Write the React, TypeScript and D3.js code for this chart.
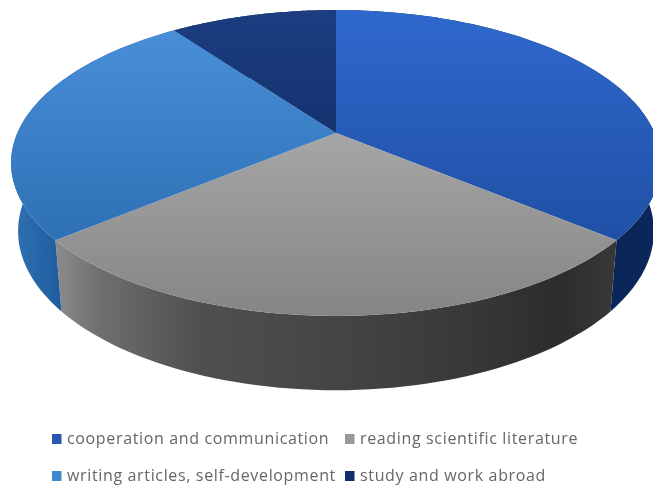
import React from "react";
import * as d3 from "d3";

const categories = [
  "cooperation and communication",
  "reading scientific literature",
  "writing articles, self-development",
  "study and work abroad",
];
const values = [36, 28, 26, 10];
const swatchColors = ["#2a57b0", "#999999", "#3f87cf", "#0f2f6e"];
const topStops = [
  ["#2f68cd", "#2050a6"],
  ["#a6a6a6", "#858585"],
  ["#4b92db", "#2e70b5"],
  ["#1c3d80", "#0d2a62"],
];
const sideFills = ["#0b2759", "url(#sideGray)", "url(#sideBlue)", "#0b2759"];
const grayStops: [number, string][] = [
  [0, "#8a8a8a"],
  [0.08, "#6e6e6e"],
  [0.25, "#505050"],
  [0.5, "#454545"],
  [0.75, "#383838"],
  [0.9, "#2c2c2c"],
  [1, "#383838"],
];

const W = 653, H = 486;
const cx = 336, cy = 133, dist = 5.1;
const Rtop = 1625, Stop = 750, Rbot = 1590, Sbot = 780, depth = 67;

const projTop = (a: number): [number, number] => {
  const X = Math.sin(a), Y = -Math.cos(a);
  return [cx + (Rtop * X) / (dist - Y), cy + (Stop * Y) / (dist - Y)];
};
const projBot = (a: number): [number, number] => {
  const X = Math.sin(a), Y = -Math.cos(a);
  return [cx + (Rbot * X) / (dist - Y), cy + depth + (Sbot * Y) / (dist - Y)];
};
const line = d3.line();
const sample = (a0: number, a1: number) => d3.range(0, 61).map((i) => a0 + ((a1 - a0) * i) / 60);

export default function App() {
  const arcs = d3.pie<number>().sort(null)(values);
  const legendPos = [
    { x: 52, y: 444 },
    { x: 345, y: 444 },
    { x: 52, y: 481 },
    { x: 345, y: 481 },
  ];
  return (
    <svg width={W} height={H} style={{ position: "absolute", left: 0, top: 0, display: "block", background: "#fff" }}>
      <defs>
        {topStops.map((s, i) => (
          <linearGradient key={i} id={`top${i}`} gradientUnits="userSpaceOnUse" x1="0" x2="0" y1={i === 1 ? 133 : 10} y2={i === 1 ? 316 : 240}>
            <stop offset="0" stopColor={s[0]} />
            <stop offset="1" stopColor={s[1]} />
          </linearGradient>
        ))}
        <linearGradient id="sideGray" gradientUnits="userSpaceOnUse" x1="58" x2="612" y1="0" y2="0">
          {grayStops.map(([o, c]) => (
            <stop key={o} offset={o} stopColor={c} />
          ))}
        </linearGradient>
        <linearGradient id="sideBlue" gradientUnits="userSpaceOnUse" x1="10" x2="62" y1="0" y2="0">
          <stop offset="0" stopColor="#2f72b5" />
          <stop offset="1" stopColor="#1f5c9e" />
        </linearGradient>
      </defs>
      <g style={{ filter: "blur(0.5px)" }}>
        {arcs.map((d, i) => {
          const pts = sample(d.startAngle, d.endAngle);
          const path = [...pts.map(projTop), ...pts.slice().reverse().map(projBot)];
          return <path key={i} d={line(path) + "Z"} fill={sideFills[i]} />;
        })}
        {arcs.map((d, i) => {
          const pts = sample(d.startAngle, d.endAngle).map(projTop);
          return <path key={i} d={line([[cx, cy], ...pts]) + "Z"} fill={`url(#top${i})`} />;
        })}
      </g>
      <g fontFamily="'Open Sans', 'Noto Sans', sans-serif" fontSize={16} letterSpacing={0.65} fill="#666666" style={{ filter: "blur(0.4px)" }}>
        {categories.map((c, i) => (
          <g key={c}>
            <rect x={legendPos[i].x} y={legendPos[i].y - 10} width={9.5} height={10} fill={swatchColors[i]} />
            <text x={legendPos[i].x + 15} y={legendPos[i].y}>{c}</text>
          </g>
        ))}
      </g>
    </svg>
  );
}
